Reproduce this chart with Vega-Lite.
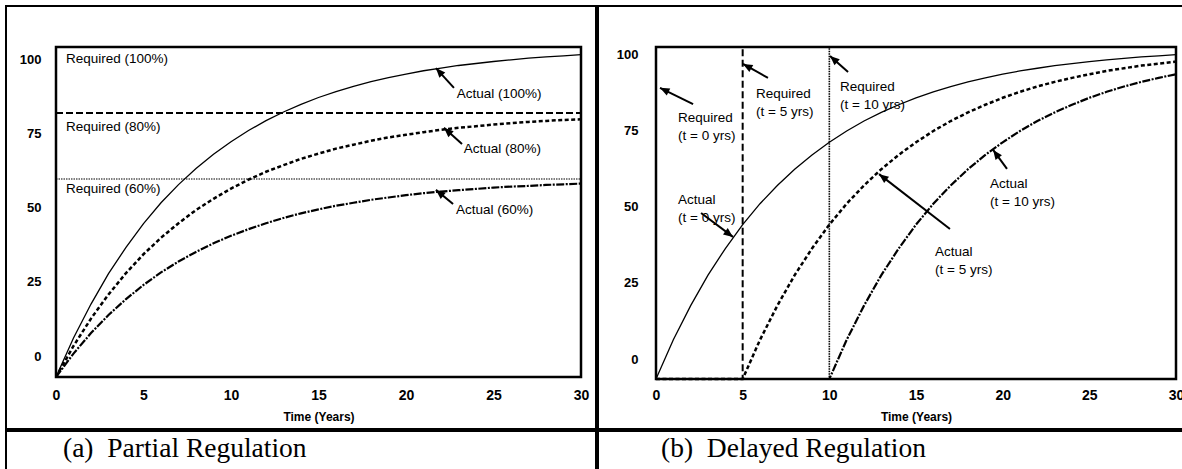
{
  "$schema": "https://vega.github.io/schema/vega-lite/v6.json",
  "padding": {"left": 5, "top": 5, "right": 0, "bottom": 0},
  "background": "white",
  "config": {
    "view": {"stroke": "black", "strokeWidth": 2},
    "axis": {"grid": false, "ticks": false, "domain": false, "labelFlush": false, "labelOverlap": false, "labelFont": "Liberation Sans", "labelFontWeight": "bold", "labelFontSize": 13, "labelColor": "black", "titleFont": "Liberation Sans", "titleFontWeight": "bold", "titleFontSize": 12, "titleColor": "black"},
    "text": {"font": "Liberation Sans", "fontSize": 13.5, "color": "black"}
  },
  "datasets": {
    "frame": [{"t0": 0, "t1": 30, "v0": 0, "v1": 100}],
    "ticks": [{"tx": 0, "ty": 0}, {"tx": 30, "ty": 100}],
    "la": [
      {"s":"A100","t":0,"v":0},{"s":"A100","t":1,"v":11.8},{"s":"A100","t":2,"v":22.1},{"s":"A100","t":3,"v":31.3},{"s":"A100","t":4,"v":39.3},{"s":"A100","t":5,"v":46.5},{"s":"A100","t":6,"v":52.8},{"s":"A100","t":7,"v":58.3},{"s":"A100","t":8,"v":63.2},{"s":"A100","t":9,"v":67.5},{"s":"A100","t":10,"v":71.3},{"s":"A100","t":11,"v":74.7},{"s":"A100","t":12,"v":77.7},{"s":"A100","t":13,"v":80.3},{"s":"A100","t":14,"v":82.6},{"s":"A100","t":15,"v":84.7},{"s":"A100","t":16,"v":86.5},{"s":"A100","t":17,"v":88.1},{"s":"A100","t":18,"v":89.5},{"s":"A100","t":19,"v":90.7},{"s":"A100","t":20,"v":91.8},{"s":"A100","t":21,"v":92.8},{"s":"A100","t":22,"v":93.6},{"s":"A100","t":23,"v":94.4},{"s":"A100","t":24,"v":95.0},{"s":"A100","t":25,"v":95.6},{"s":"A100","t":26,"v":96.1},{"s":"A100","t":27,"v":96.6},{"s":"A100","t":28,"v":97.0},{"s":"A100","t":29,"v":97.3},{"s":"A100","t":30,"v":97.7},
      {"s":"A80","t":0,"v":0},{"s":"A80","t":1,"v":9.4},{"s":"A80","t":2,"v":17.7},{"s":"A80","t":3,"v":25.0},{"s":"A80","t":4,"v":31.5},{"s":"A80","t":5,"v":37.2},{"s":"A80","t":6,"v":42.2},{"s":"A80","t":7,"v":46.6},{"s":"A80","t":8,"v":50.6},{"s":"A80","t":9,"v":54.0},{"s":"A80","t":10,"v":57.1},{"s":"A80","t":11,"v":59.8},{"s":"A80","t":12,"v":62.2},{"s":"A80","t":13,"v":64.2},{"s":"A80","t":14,"v":66.1},{"s":"A80","t":15,"v":67.7},{"s":"A80","t":16,"v":69.2},{"s":"A80","t":17,"v":70.4},{"s":"A80","t":18,"v":71.6},{"s":"A80","t":19,"v":72.6},{"s":"A80","t":20,"v":73.4},{"s":"A80","t":21,"v":74.2},{"s":"A80","t":22,"v":74.9},{"s":"A80","t":23,"v":75.5},{"s":"A80","t":24,"v":76.0},{"s":"A80","t":25,"v":76.5},{"s":"A80","t":26,"v":76.9},{"s":"A80","t":27,"v":77.3},{"s":"A80","t":28,"v":77.6},{"s":"A80","t":29,"v":77.9},{"s":"A80","t":30,"v":78.1},
      {"s":"A60","t":0,"v":0},{"s":"A60","t":1,"v":7.1},{"s":"A60","t":2,"v":13.3},{"s":"A60","t":3,"v":18.8},{"s":"A60","t":4,"v":23.6},{"s":"A60","t":5,"v":27.9},{"s":"A60","t":6,"v":31.7},{"s":"A60","t":7,"v":35.0},{"s":"A60","t":8,"v":37.9},{"s":"A60","t":9,"v":40.5},{"s":"A60","t":10,"v":42.8},{"s":"A60","t":11,"v":44.8},{"s":"A60","t":12,"v":46.6},{"s":"A60","t":13,"v":48.2},{"s":"A60","t":14,"v":49.6},{"s":"A60","t":15,"v":50.8},{"s":"A60","t":16,"v":51.9},{"s":"A60","t":17,"v":52.8},{"s":"A60","t":18,"v":53.7},{"s":"A60","t":19,"v":54.4},{"s":"A60","t":20,"v":55.1},{"s":"A60","t":21,"v":55.7},{"s":"A60","t":22,"v":56.2},{"s":"A60","t":23,"v":56.6},{"s":"A60","t":24,"v":57.0},{"s":"A60","t":25,"v":57.4},{"s":"A60","t":26,"v":57.7},{"s":"A60","t":27,"v":57.9},{"s":"A60","t":28,"v":58.2},{"s":"A60","t":29,"v":58.4},{"s":"A60","t":30,"v":58.6},
      {"s":"R100","t":0,"v":100},{"s":"R100","t":30,"v":100},
      {"s":"R80","t":0,"v":80},{"s":"R80","t":30,"v":80},
      {"s":"R60","t":0,"v":60},{"s":"R60","t":30,"v":60}
    ],
    "lb": [
      {"s":"B0","t":0,"v":0},{"s":"B0","t":1,"v":11.8},{"s":"B0","t":2,"v":22.1},{"s":"B0","t":3,"v":31.3},{"s":"B0","t":4,"v":39.3},{"s":"B0","t":5,"v":46.5},{"s":"B0","t":6,"v":52.8},{"s":"B0","t":7,"v":58.3},{"s":"B0","t":8,"v":63.2},{"s":"B0","t":9,"v":67.5},{"s":"B0","t":10,"v":71.3},{"s":"B0","t":11,"v":74.7},{"s":"B0","t":12,"v":77.7},{"s":"B0","t":13,"v":80.3},{"s":"B0","t":14,"v":82.6},{"s":"B0","t":15,"v":84.7},{"s":"B0","t":16,"v":86.5},{"s":"B0","t":17,"v":88.1},{"s":"B0","t":18,"v":89.5},{"s":"B0","t":19,"v":90.7},{"s":"B0","t":20,"v":91.8},{"s":"B0","t":21,"v":92.8},{"s":"B0","t":22,"v":93.6},{"s":"B0","t":23,"v":94.4},{"s":"B0","t":24,"v":95.0},{"s":"B0","t":25,"v":95.6},{"s":"B0","t":26,"v":96.1},{"s":"B0","t":27,"v":96.6},{"s":"B0","t":28,"v":97.0},{"s":"B0","t":29,"v":97.3},{"s":"B0","t":30,"v":97.7},
      {"s":"B5","t":0,"v":0},{"s":"B5","t":5,"v":0},{"s":"B5","t":6,"v":11.8},{"s":"B5","t":7,"v":22.1},{"s":"B5","t":8,"v":31.3},{"s":"B5","t":9,"v":39.3},{"s":"B5","t":10,"v":46.5},{"s":"B5","t":11,"v":52.8},{"s":"B5","t":12,"v":58.3},{"s":"B5","t":13,"v":63.2},{"s":"B5","t":14,"v":67.5},{"s":"B5","t":15,"v":71.3},{"s":"B5","t":16,"v":74.7},{"s":"B5","t":17,"v":77.7},{"s":"B5","t":18,"v":80.3},{"s":"B5","t":19,"v":82.6},{"s":"B5","t":20,"v":84.7},{"s":"B5","t":21,"v":86.5},{"s":"B5","t":22,"v":88.1},{"s":"B5","t":23,"v":89.5},{"s":"B5","t":24,"v":90.7},{"s":"B5","t":25,"v":91.8},{"s":"B5","t":26,"v":92.8},{"s":"B5","t":27,"v":93.6},{"s":"B5","t":28,"v":94.4},{"s":"B5","t":29,"v":95.0},{"s":"B5","t":30,"v":95.6},
      {"s":"B10","t":0,"v":0},{"s":"B10","t":10,"v":0},{"s":"B10","t":11,"v":11.8},{"s":"B10","t":12,"v":22.1},{"s":"B10","t":13,"v":31.3},{"s":"B10","t":14,"v":39.3},{"s":"B10","t":15,"v":46.5},{"s":"B10","t":16,"v":52.8},{"s":"B10","t":17,"v":58.3},{"s":"B10","t":18,"v":63.2},{"s":"B10","t":19,"v":67.5},{"s":"B10","t":20,"v":71.3},{"s":"B10","t":21,"v":74.7},{"s":"B10","t":22,"v":77.7},{"s":"B10","t":23,"v":80.3},{"s":"B10","t":24,"v":82.6},{"s":"B10","t":25,"v":84.7},{"s":"B10","t":26,"v":86.5},{"s":"B10","t":27,"v":88.1},{"s":"B10","t":28,"v":89.5},{"s":"B10","t":29,"v":90.7},{"s":"B10","t":30,"v":91.8},
      {"s":"R0","t":0,"v":0},{"s":"R0","t":0,"v":100},{"s":"R0","t":30,"v":100},
      {"s":"R5","t":0,"v":0},{"s":"R5","t":5,"v":0},{"s":"R5","t":5,"v":100},{"s":"R5","t":30,"v":100},
      {"s":"R10","t":0,"v":0},{"s":"R10","t":10,"v":0},{"s":"R10","t":10,"v":100},{"s":"R10","t":30,"v":100}
    ],
    "ta": [
      {"label":"Required (100%)","t":0.57,"v":96.4},
      {"label":"Required (80%)","t":0.57,"v":75.8},
      {"label":"Required (60%)","t":0.57,"v":57.0},
      {"label":"Actual (100%)","t":22.9,"v":85.8},
      {"label":"Actual (80%)","t":23.3,"v":69.1},
      {"label":"Actual (60%)","t":22.86,"v":50.6}
    ],
    "aa": [
      {"t":22.74,"v":87.6,"th":21.71,"vh":93.6},
      {"t":23.2,"v":70.6,"th":22.17,"vh":75.5},
      {"t":22.69,"v":52.4,"th":21.71,"vh":56.7}
    ],
    "tb": [
      {"label":"Required\n(t = 0 yrs)","t":1.27,"v":78.5},
      {"label":"Required\n(t = 5 yrs)","t":5.77,"v":85.8},
      {"label":"Required\n(t = 10 yrs)","t":10.62,"v":88.0},
      {"label":"Actual\n(t = 0 yrs)","t":1.27,"v":53.8},
      {"label":"Actual\n(t = 5 yrs)","t":16.1,"v":38.3},
      {"label":"Actual\n(t = 10 yrs)","t":19.27,"v":58.6}
    ],
    "ab": [
      {"t":2.14,"v":82.8,"th":0.23,"vh":87.7},
      {"t":6.46,"v":90.7,"th":5.02,"vh":94.9},
      {"t":11.08,"v":92.5,"th":10.04,"vh":97.3},
      {"t":2.6,"v":50.0,"th":4.44,"vh":42.8},
      {"t":16.96,"v":45.2,"th":12.87,"vh":61.7},
      {"t":20.25,"v":63.3,"th":19.45,"vh":69.0}
    ]
  },
  "spacing": 0,
  "hconcat": [
    {
      "spacing": 0,
      "vconcat": [
        {
          "width": 590,
          "height": 423,
          "resolve": {"scale": {"x": "independent", "y": "independent"}, "axis": {"x": "independent", "y": "independent"}},
          "layer": [
            {
              "encoding": {
                "x": {"field": "t", "type": "quantitative", "scale": {"domain": [0, 30], "range": [50, 575], "nice": false, "zero": false}, "axis": null},
                "y": {"field": "v", "type": "quantitative", "scale": {"domain": [0, 100], "range": [371, 41], "nice": false, "zero": false}, "axis": null}
              },
              "layer": [
                {"data": {"name": "frame"}, "mark": {"type": "rect", "fill": "white", "fillOpacity": 0, "stroke": "black", "strokeWidth": 2.5}, "encoding": {"x": {"field": "t0", "type": "quantitative", "axis": null}, "x2": {"field": "t1"}, "y": {"field": "v0", "type": "quantitative", "axis": null}, "y2": {"field": "v1"}}},
                {"data": {"name": "la"}, "transform": [{"filter": "datum.s === 'R100'"}], "mark": {"type": "line", "color": "black", "strokeWidth": 1}},
                {"data": {"name": "la"}, "transform": [{"filter": "datum.s === 'R80'"}], "mark": {"type": "line", "color": "black", "strokeWidth": 2, "strokeDash": [7, 3]}},
                {"data": {"name": "la"}, "transform": [{"filter": "datum.s === 'R60'"}], "mark": {"type": "line", "color": "black", "strokeWidth": 1.2, "strokeDash": [1.5, 1]}},
                {"data": {"name": "la"}, "transform": [{"filter": "datum.s === 'A100'"}], "mark": {"type": "line", "color": "black", "strokeWidth": 1.3}},
                {"data": {"name": "la"}, "transform": [{"filter": "datum.s === 'A80'"}], "mark": {"type": "line", "color": "black", "strokeWidth": 2.5, "strokeDash": [4, 2.5]}},
                {"data": {"name": "la"}, "transform": [{"filter": "datum.s === 'A60'"}], "mark": {"type": "line", "color": "black", "strokeWidth": 2.2, "strokeDash": [8, 1.5, 2, 1.5]}},
                {"data": {"name": "aa"}, "mark": {"type": "rule", "color": "black", "strokeWidth": 2}, "encoding": {"x2": {"field": "th"}, "y2": {"field": "vh"}}},
                {"data": {"name": "aa"}, "transform": [{"calculate": "atan2((datum.th - datum.t) * 17.5, (datum.vh - datum.v) * 3.3) * 180 / PI", "as": "ang"}], "mark": {"type": "point", "shape": "M0,0L-0.42,1L0.42,1Z", "filled": true, "color": "black", "opacity": 1, "size": 360}, "encoding": {"x": {"field": "th", "type": "quantitative", "axis": null}, "y": {"field": "vh", "type": "quantitative", "axis": null}, "angle": {"field": "ang", "type": "quantitative", "scale": null}}},
                {"data": {"name": "ta"}, "mark": {"type": "text", "align": "left", "baseline": "middle"}, "encoding": {"text": {"field": "label"}}}
              ]
            },
            {
              "data": {"name": "ticks"},
              "mark": {"type": "point", "opacity": 0},
              "encoding": {
                "x": {"field": "tx", "type": "quantitative", "scale": {"domain": [0, 30], "range": [50, 575], "nice": false, "zero": false}, "axis": {"values": [0, 5, 10, 15, 20, 25, 30], "format": "d", "orient": "bottom", "offset": -52, "labelPadding": 11, "labelFontSize": 14, "title": "Time (Years)", "titlePadding": 9}},
                "y": {"field": "ty", "type": "quantitative", "scale": {"domain": [0, 100], "range": [350, 53], "nice": false, "zero": false}, "axis": {"values": [0, 25, 50, 75, 100], "orient": "left", "offset": -50, "labelPadding": 15, "title": null}}
              }
            }
          ]
        },
        {
          "width": 590,
          "height": 39,
          "data": {"values": [{"caption": "(a)\u00a0 Partial Regulation"}]},
          "mark": {"type": "text", "align": "left", "baseline": "middle", "dy": -2, "font": "Liberation Serif", "fontSize": 27.5},
          "encoding": {"text": {"field": "caption"}, "x": {"datum": 0, "type": "quantitative", "scale": {"domain": [0, 1], "range": [57, 590]}, "axis": null}}
        }
      ]
    },
    {
      "spacing": 0,
      "vconcat": [
        {
          "width": 588,
          "height": 423,
          "resolve": {"scale": {"x": "independent", "y": "independent"}, "axis": {"x": "independent", "y": "independent"}},
          "layer": [
            {
              "encoding": {
                "x": {"field": "t", "type": "quantitative", "scale": {"domain": [0, 30], "range": [58, 578], "nice": false, "zero": false}, "axis": null},
                "y": {"field": "v", "type": "quantitative", "scale": {"domain": [0, 100], "range": [373, 41], "nice": false, "zero": false}, "axis": null}
              },
              "layer": [
                {"data": {"name": "frame"}, "mark": {"type": "rect", "fill": "white", "fillOpacity": 0, "stroke": "black", "strokeWidth": 2.5}, "encoding": {"x": {"field": "t0", "type": "quantitative", "axis": null}, "x2": {"field": "t1"}, "y": {"field": "v0", "type": "quantitative", "axis": null}, "y2": {"field": "v1"}}},
                {"data": {"name": "lb"}, "transform": [{"filter": "datum.s === 'R0'"}], "mark": {"type": "line", "color": "black", "strokeWidth": 1}},
                {"data": {"name": "lb"}, "transform": [{"filter": "datum.s === 'R5'"}], "mark": {"type": "line", "color": "black", "strokeWidth": 2, "strokeDash": [7, 3.5]}},
                {"data": {"name": "lb"}, "transform": [{"filter": "datum.s === 'R10'"}], "mark": {"type": "line", "color": "black", "strokeWidth": 1.6, "strokeDash": [1.5, 1]}},
                {"data": {"name": "lb"}, "transform": [{"filter": "datum.s === 'B0'"}], "mark": {"type": "line", "color": "black", "strokeWidth": 1.3}},
                {"data": {"name": "lb"}, "transform": [{"filter": "datum.s === 'B5'"}], "mark": {"type": "line", "color": "black", "strokeWidth": 2.5, "strokeDash": [4, 2.5]}},
                {"data": {"name": "lb"}, "transform": [{"filter": "datum.s === 'B10'"}], "mark": {"type": "line", "color": "black", "strokeWidth": 2.2, "strokeDash": [8, 1.5, 2, 1.5]}},
                {"data": {"name": "ab"}, "mark": {"type": "rule", "color": "black", "strokeWidth": 2}, "encoding": {"x2": {"field": "th"}, "y2": {"field": "vh"}}},
                {"data": {"name": "ab"}, "transform": [{"calculate": "atan2((datum.th - datum.t) * 17.33, (datum.vh - datum.v) * 3.32) * 180 / PI", "as": "ang"}], "mark": {"type": "point", "shape": "M0,0L-0.42,1L0.42,1Z", "filled": true, "color": "black", "opacity": 1, "size": 360}, "encoding": {"x": {"field": "th", "type": "quantitative", "axis": null}, "y": {"field": "vh", "type": "quantitative", "axis": null}, "angle": {"field": "ang", "type": "quantitative", "scale": null}}},
                {"data": {"name": "tb"}, "mark": {"type": "text", "align": "left", "baseline": "middle", "lineBreak": "\n", "lineHeight": 18}, "encoding": {"text": {"field": "label"}}}
              ]
            },
            {
              "data": {"name": "ticks"},
              "mark": {"type": "point", "opacity": 0},
              "encoding": {
                "x": {"field": "tx", "type": "quantitative", "scale": {"domain": [0, 30], "range": [58, 578], "nice": false, "zero": false}, "axis": {"values": [0, 5, 10, 15, 20, 25, 30], "format": "d", "orient": "bottom", "offset": -50, "labelPadding": 9, "labelFontSize": 14, "title": "Time (Years)", "titlePadding": 9}},
                "y": {"field": "ty", "type": "quantitative", "scale": {"domain": [0, 100], "range": [353, 48], "nice": false, "zero": false}, "axis": {"values": [0, 25, 50, 75, 100], "orient": "left", "offset": -58, "labelPadding": 18, "title": null}}
              }
            }
          ]
        },
        {
          "width": 588,
          "height": 39,
          "data": {"values": [{"caption": "(b)\u00a0 Delayed Regulation"}]},
          "mark": {"type": "text", "align": "left", "baseline": "middle", "dy": -2, "font": "Liberation Serif", "fontSize": 27.5},
          "encoding": {"text": {"field": "caption"}, "x": {"datum": 0, "type": "quantitative", "scale": {"domain": [0, 1], "range": [63, 588]}, "axis": null}}
        }
      ]
    }
  ]
}
